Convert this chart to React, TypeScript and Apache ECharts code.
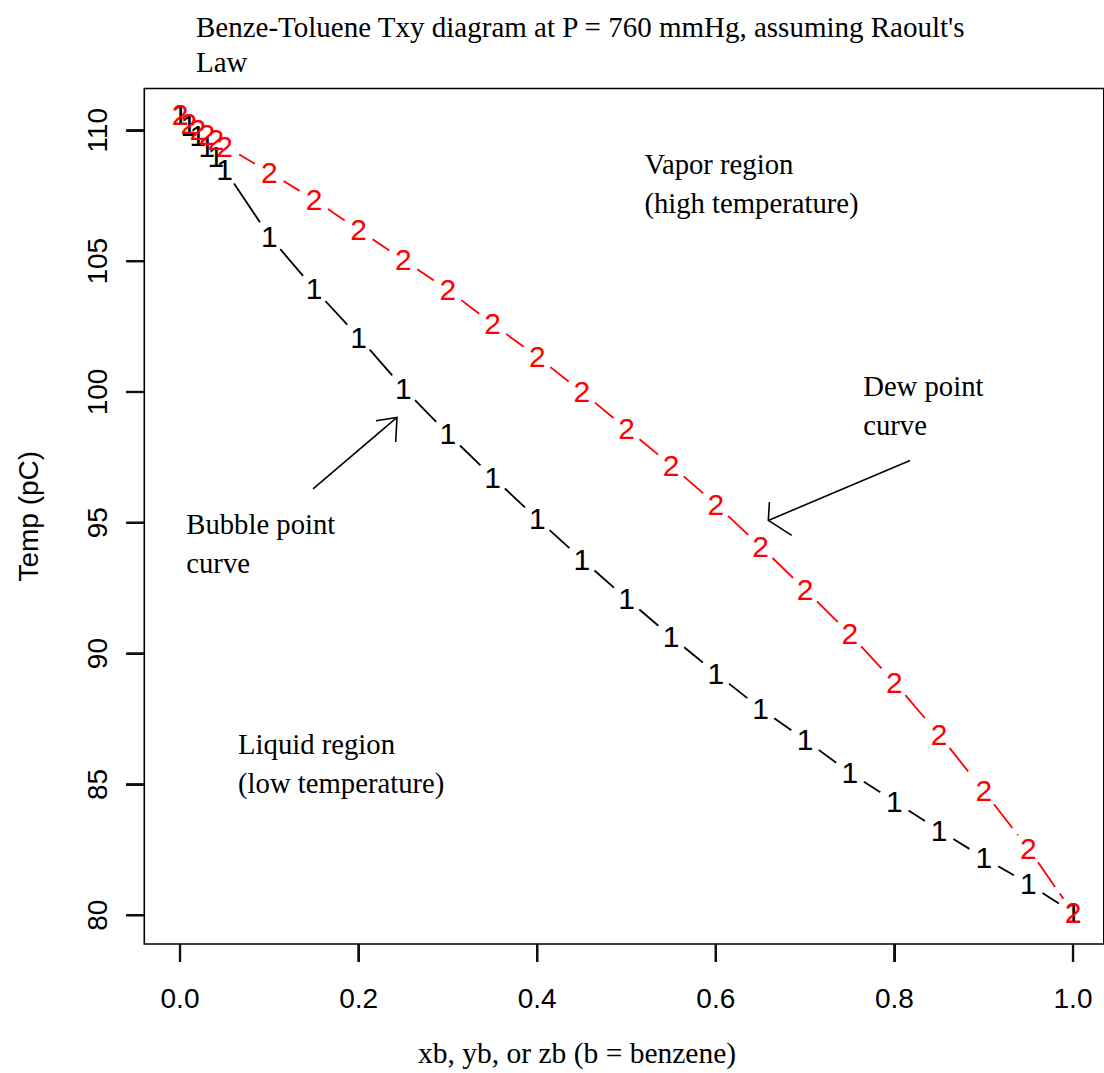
import React, { useEffect, useRef } from "react";
import * as echarts from "echarts";

// Composition of benzene (shared x for both curves)
const zb = [0, 0.01, 0.02, 0.03, 0.04, 0.05, 0.1, 0.15, 0.2, 0.25, 0.3, 0.35, 0.4, 0.45, 0.5, 0.55, 0.6, 0.65, 0.7, 0.75, 0.8, 0.85, 0.9, 0.95, 1.0];
// Bubble point temperatures (series "1", black)
const bubbleT = [110.6, 110.2, 109.8, 109.4, 109.0, 108.5, 105.95, 103.95, 102.1, 100.15, 98.4, 96.75, 95.15, 93.6, 92.1, 90.65, 89.25, 87.9, 86.7, 85.45, 84.35, 83.25, 82.2, 81.2, 80.1];
// Dew point temperatures (series "2", red)
const dewT = [110.6, 110.25, 110.05, 109.85, 109.65, 109.4, 108.4, 107.35, 106.2, 105.05, 103.9, 102.6, 101.35, 100.0, 98.6, 97.2, 95.7, 94.1, 92.45, 90.75, 88.9, 86.9, 84.75, 82.55, 80.1];

const xTickValues = [0, 0.2, 0.4, 0.6, 0.8, 1.0];
const yTickValues = [80, 85, 90, 95, 100, 105, 110];

const titleText = "Benze-Toluene Txy diagram at P = 760 mmHg, assuming Raoult's\nLaw";
const xAxisTitle = "xb, yb, or zb (b = benzene)";
const yAxisTitle = "Temp (pC)";

const annotationTexts = ["Vapor region\n(high temperature)", "Dew point\ncurve", "Bubble point\ncurve", "Liquid region\n(low temperature)"];
const annotationX = [0.52, 0.765, 0.007, 0.065];
const annotationY = [107.95, 99.5, 94.2, 85.8];

// Hand-drawn arrows (data coordinates): shaft and head
const bubbleArrowShaft = [[0.149, 96.3], [0.243, 99.03]];
const bubbleArrowHead = [[0.2195, 98.9], [0.243, 99.03], [0.2415, 98.09]];
const dewArrowShaft = [[0.8175, 97.38], [0.6588, 95.09]];
const dewArrowHead = [[0.66, 95.79], [0.6588, 95.09], [0.685, 94.52]];

const X_MIN = -0.04, X_MAX = 1.0345, Y_MIN = 78.9, Y_MAX = 111.6;
const PX_PER_X = 893;
const GAP = 16.8;
const TICK_LEN = 18;
const SANS = "Liberation Sans, Arial, sans-serif";
const SERIF = "Liberation Serif, Times New Roman, serif";

function segments(xs: number[], ys: number[]) {
  const out: number[][] = [];
  for (let i = 0; i < xs.length - 1; i++) out.push([xs[i], ys[i], xs[i + 1], ys[i + 1]]);
  return out;
}

function lineSeries(xs: number[], ys: number[], color: string, dash: number[] | null) {
  return {
    type: "custom",
    coordinateSystem: "cartesian2d",
    data: segments(xs, ys),
    encode: { x: [0, 2], y: [1, 3] },
    silent: true,
    clip: false,
    renderItem: (params: any, api: any) => {
      const p0 = api.coord([api.value(0), api.value(1)]);
      const p1 = api.coord([api.value(2), api.value(3)]);
      const dx = p1[0] - p0[0], dy = p1[1] - p0[1];
      const dist = Math.hypot(dx, dy);
      const f = GAP / dist;
      if (!(f < 0.5)) return null;
      return {
        type: "line",
        shape: { x1: p0[0] + f * dx, y1: p0[1] + f * dy, x2: p1[0] - f * dx, y2: p1[1] - f * dy },
        style: { stroke: color, lineWidth: 1.8, lineDash: dash || undefined },
      };
    },
  };
}

function glyphSeries(xs: number[], ys: number[], color: string, ch: string) {
  return {
    type: "custom",
    coordinateSystem: "cartesian2d",
    data: xs.map((x, i) => [x, ys[i]]),
    encode: { x: 0, y: 1 },
    silent: true,
    clip: false,
    renderItem: (params: any, api: any) => {
      const p = api.coord([api.value(0), api.value(1)]);
      return {
        type: "text",
        x: p[0],
        y: p[1],
        style: {
          text: ch,
          fill: color,
          fontSize: 30,
          fontFamily: SANS,
          align: "center",
          verticalAlign: "middle",
          textAlign: "center",
          textVerticalAlign: "middle",
        },
      };
    },
  };
}

export default function App() {
  const ref = useRef<HTMLDivElement>(null);
  useEffect(() => {
    document.body.style.margin = "0";
    const chart = echarts.init(ref.current as HTMLDivElement, null, { renderer: "svg" });
    const option: any = {
      animation: false,
      backgroundColor: "#fff",
      title: {
        text: titleText,
        left: 191,
        top: 4,
        textStyle: { fontFamily: SERIF, fontSize: 29, fontWeight: "normal", color: "#000", lineHeight: 35 },
      },
      grid: {
        left: 144.3,
        top: 88.5,
        width: (X_MAX - X_MIN) * PX_PER_X,
        height: 857.3,
        show: true,
        borderColor: "#000",
        borderWidth: 1.6,
        backgroundColor: "transparent",
      },
      xAxis: {
        type: "value",
        min: X_MIN,
        max: X_MAX,
        splitLine: { show: false },
        axisLine: { show: false, onZero: false },
        axisTick: { show: true, length: TICK_LEN, customValues: xTickValues, lineStyle: { color: "#000", width: 2 } },
        axisLabel: {
          customValues: xTickValues,
          margin: 40,
          formatter: (v: number) => v.toFixed(1),
          fontFamily: SANS,
          fontSize: 28,
          color: "#000",
        },
        name: xAxisTitle,
        nameLocation: "middle",
        nameGap: 94,
        nameTextStyle: { fontFamily: SERIF, fontSize: 29.5, color: "#000", padding: [0, 94, 0, 0] },
      },
      yAxis: {
        type: "value",
        min: Y_MIN,
        max: Y_MAX,
        splitLine: { show: false },
        axisLine: { show: false, onZero: false },
        axisTick: { show: true, length: TICK_LEN, customValues: yTickValues, lineStyle: { color: "#000", width: 2 } },
        axisLabel: {
          customValues: yTickValues,
          rotate: 90,
          margin: 33,
          formatter: (v: number) => String(Math.round(v)),
          fontFamily: SANS,
          fontSize: 28,
          color: "#000",
        },
        name: yAxisTitle,
        nameLocation: "middle",
        nameGap: 102,
        nameTextStyle: { fontFamily: SANS, fontSize: 28, color: "#000" },
      },
      series: [
        lineSeries(zb, bubbleT, "#000000", null),
        glyphSeries(zb, bubbleT, "#000000", "1"),
        lineSeries(zb, dewT, "#ff0000", [30, 8]),
        glyphSeries(zb, dewT, "#ff0000", "2"),
      ],
    };
    chart.setOption(option);

    const px = (p: number[]) => chart.convertToPixel({ gridIndex: 0 }, p) as number[];
    const graphics: any[] = [];
    // Outward tick marks, positioned through the axes' scales (polylines and thin bars)
    xTickValues.forEach((v) => {
      const c = px([v, Y_MIN]);
      graphics.push({
        type: "polyline",
        z: 50,
        shape: { points: [[c[0], c[1]], [c[0], c[1] + TICK_LEN]] },
        style: { stroke: "#111", lineWidth: 2.2, fill: null },
      });
      graphics.push({
        type: "rect",
        z: 50,
        shape: { x: c[0] - 1.1, y: c[1], width: 2.2, height: TICK_LEN },
        style: { fill: "#111" },
      });
    });
    yTickValues.forEach((v) => {
      const c = px([X_MIN, v]);
      graphics.push({
        type: "polyline",
        z: 50,
        shape: { points: [[c[0], c[1]], [c[0] - TICK_LEN, c[1]]] },
        style: { stroke: "#111", lineWidth: 2.2, fill: null },
      });
      graphics.push({
        type: "rect",
        z: 50,
        shape: { x: c[0] - TICK_LEN, y: c[1] - 1.1, width: TICK_LEN, height: 2.2 },
        style: { fill: "#111" },
      });
    });
    annotationTexts.forEach((t, i) => {
      const p = px([annotationX[i], annotationY[i]]);
      graphics.push({
        type: "text",
        x: p[0],
        y: p[1],
        silent: true,
        style: {
          text: t,
          fill: "#000",
          fontSize: 28.7,
          fontFamily: SERIF,
          lineHeight: 39,
          align: "left",
          verticalAlign: "middle",
          textAlign: "left",
          textVerticalAlign: "middle",
        },
      });
    });
    [bubbleArrowShaft, bubbleArrowHead, dewArrowShaft, dewArrowHead].forEach((pts) => {
      graphics.push({
        type: "polyline",
        silent: true,
        shape: { points: pts.map((q) => px(q)) },
        style: { stroke: "#000", lineWidth: 1.6, fill: null },
      });
    });
    chart.setOption({ graphic: graphics });

    return () => chart.dispose();
  }, []);
  return <div ref={ref} style={{ width: 1104, height: 1073 }} />;
}
